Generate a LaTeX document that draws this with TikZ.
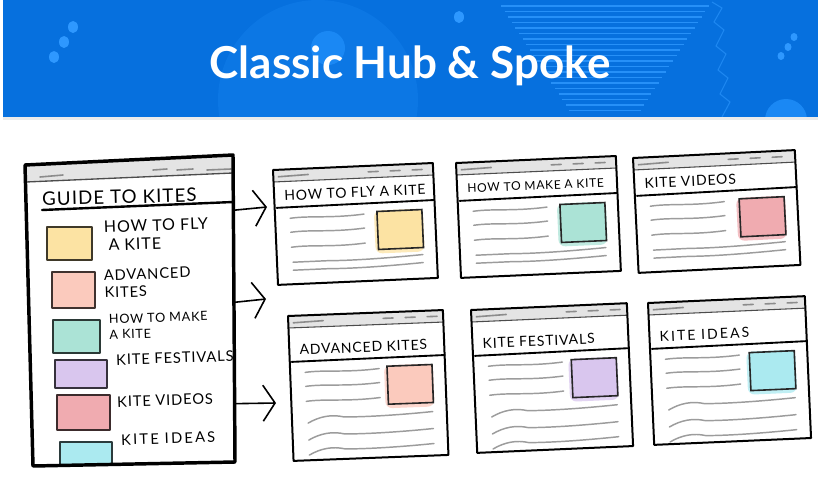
\documentclass[tikz,border=0pt]{standalone}
\usepackage{fontspec}
\setmainfont{Lato}
\newfontfamily\handfont[LetterSpace=6]{Lato}
\usetikzlibrary{calc}
\usetikzlibrary{positioning}
\usetikzlibrary{arrows.meta}

\definecolor{bannerblue}{HTML}{0670DE}
\definecolor{bannerlight}{HTML}{1A88F4}
\definecolor{bannerdot}{HTML}{2E98FF}
\definecolor{barfill}{HTML}{E4E4E4}
\definecolor{scribble}{HTML}{9C9C9C}
\definecolor{kiteyellow}{HTML}{FCE3A3}
\definecolor{kitesalmon}{HTML}{FBCABD}
\definecolor{kiteteal}{HTML}{ABE3D6}
\definecolor{kitepurple}{HTML}{D9C6EE}
\definecolor{kitepink}{HTML}{F0ABB0}
\definecolor{kitecyan}{HTML}{ABEAF0}

\tikzstyle{bannertitle} = [text=white, font=\fontsize{33}{36}\selectfont\bfseries]
\tikzstyle{hubframe} = [draw=black, line width=2.6pt, line join=round]
\tikzstyle{pageframe} = [draw=black, line width=1.5pt, line join=round]
\tikzstyle{titlerule} = [draw=black, line width=1.4pt, line cap=round]
\tikzstyle{barline} = [draw=black!70, line width=0.8pt]
\tikzstyle{bardash} = [draw=black!45, line width=1.2pt, line cap=round]
\tikzstyle{scrib} = [draw=scribble, line width=1.1pt, line cap=round]
\tikzstyle{hubsq} = [line width=1.2pt, line join=round]
\tikzstyle{pagesq} = [draw=black!85, line width=1.2pt]
\tikzstyle{hublabel} = [anchor=west, align=left, inner sep=0pt, rotate=2,
  font=\handfont\fontsize{11}{13}\selectfont]
\tikzstyle{pagetitle} = [anchor=west, inner sep=0pt, transform shape,
  font=\handfont\fontsize{10.5}{12}\selectfont]
\tikzstyle{spoke} = [draw=black, line width=1.2pt,
  -{Straight Barb[length=9pt,width=27pt,line width=1.2pt]}]

% #1 name, #2 corner, #3 tilt, #4 width, #5 height, #6 title, #7 colour,
% #8 shift of the content, #9 rows of long scribbles
\newcommand{\kitepage}[9]{%
  \begin{scope}[shift={#2}, rotate=#3]
    \coordinate (#1) at (0,0);
    \fill[white] (0,0) rectangle (#4,#5);
    \fill[barfill] (0,0) rectangle (#4,12);
    \draw[barline] (0,12) -- (#4,12);
    \draw[bardash] (5,7) -- (35,6);
    \foreach \dx in {95,117,139} \draw[bardash] (\dx,6) -- ++(10,0);
    \node[pagetitle] (#1-title) at (10,{26+#8}) {#6};
    \draw[titlerule] (2,{38+#8}) -- (#4,{37+#8});
    % picture square
    \coordinate (#1-sq) at ({#4-58},{46+#8});
    \fill[#7!75!white, rounded corners=5pt] ($(#1-sq)+(-3,-1)$) rectangle ++(49,43);
    \draw[pagesq, fill=#7] (#1-sq) rectangle ++(45,38);
    % text scribbles
    \foreach \ly in {49,63,78}
      \draw[scrib] (15,{\ly+#8}) .. controls (35,{\ly+#8-2}) and (55,{\ly+#8+2}) .. (89,{\ly+#8-1});
    \foreach \ly in {#9}
      \draw[scrib] (16,{\ly+0.6*#8}) .. controls (28,{\ly-0.2*#8}) and (40,{\ly-0.4*#8}) .. (52,\ly)
        .. controls (75,{\ly+1}) and (110,\ly) .. ({#4-14},{\ly-2});
    \draw[pageframe] (0,0) rectangle (#4,#5);
  \end{scope}}

\begin{document}
\begin{tikzpicture}[x=0.75pt, y=-0.75pt]
\useasboundingbox (0,0) rectangle (818,493);
\fill[white] (0,0) rectangle (818,493);

% banner
\fill[bannerblue] (3,0) rectangle (818,117);
\begin{scope}
  \clip (3,0) rectangle (818,117);
  \fill[bannerlight, opacity=0.3] (318,100) circle (100);
  \fill[bannerlight] (328,48) circle (17);
  \fill[bannerlight] (786,120) circle (21);
  \foreach \i in {0,...,19}
    \draw[bannerdot, opacity=0.8, line width=1.1pt] ({501+3.6*\i},{6+5.5*\i}) -- ({709-3.6*\i},{6+5.5*\i});
  \draw[bannerdot, opacity=0.6, line width=0.8pt]
    (712,2) -- (722,8) -- (714,22) -- (724,30) -- (716,46) -- (726,54) -- (718,70)
    -- (728,78) -- (720,94) -- (730,102) -- (722,117);
\end{scope}
\foreach \dx/\dy in {73/27,64/42,54/57} \fill[bannerdot] (\dx,\dy) ellipse (5 and 6);
\fill[bannerdot] (459,17) ellipse (5 and 6);
\foreach \dx/\dy in {794/37,788/47,781/56} \fill[bannerdot] (\dx,\dy) ellipse (3.5 and 4);
\node[bannertitle] (title) at (410,66) {Classic Hub \& Spoke};
\fill[black!8] (3,117) rectangle (818,120);

% hub page
\coordinate (hub-nw) at (25,165);
\coordinate (hub-ne) at (233,155);
\coordinate (hub-se) at (235,462);
\coordinate (hub-sw) at (33,466);
\fill[white] (hub-nw) -- (hub-ne) -- (hub-se) -- (hub-sw) -- cycle;
\fill[barfill] (hub-nw) -- (hub-ne) -- (233,173) -- (26,182) -- cycle;
\draw[barline, line width=1pt] (26,182) -- (233,173);
\draw[bardash] (40,177) -- (63,175);
\foreach \dx/\dl in {153/14,177/16,207/24} \draw[bardash] (\dx,170) -- ++(\dl,-1);
\node[pagetitle, font=\handfont\fontsize{14}{16}\selectfont, rotate=1.5] (hub-title) at (42,199) {GUIDE TO KITES};
\draw[titlerule, line width=1.8pt] (42,210) -- (233,202);
\foreach \ax/\ay/\bx/\by/\col in {47/227/92/260/kiteyellow, 52/272/95/308/kitesalmon,
    53/320/100/353/kiteteal, 55/360/107/388/kitepurple, 57/395/110/430/kitepink,
    60/442/112/465/kitecyan}
  \draw[hubsq, fill=\col, draw=\col!25!black] (\ax,\ay) rectangle (\bx,\by);
\node[hublabel, font=\handfont\fontsize{12}{13.5}\selectfont] (lbl-fly) at (104,236) {HOW TO FLY\\\hspace{3pt}A KITE};
\node[hublabel] (lbl-adv) at (104,284) {ADVANCED\\KITES};
\node[hublabel, font=\handfont\fontsize{9.5}{11.5}\selectfont] (lbl-make) at (109,327) {HOW TO MAKE\\A KITE};
\node[hublabel] (lbl-fest) at (116,360) {KITE FESTIVALS};
\node[hublabel] (lbl-video) at (117,402) {KITE VIDEOS};
\node[hublabel, font=\handfont\fontsize{11}{13}\selectfont\addfontfeature{LetterSpace=15}] (lbl-idea) at (121,440) {KITE IDEAS};
\draw[hubframe] (hub-nw) -- (hub-ne) -- (hub-se) -- (hub-sw) -- cycle;

% spoke pages
\kitepage{flypage}{(273,170)}{2.5}{160}{115}{HOW TO FLY A KITE}{kiteyellow}{0}{93,101}
\kitepage{makepage}{(456,163)}{2.5}{160}{115}{\fontsize{9}{11}\selectfont HOW TO MAKE A KITE}{kiteteal}{0}{93,101}
\kitepage{videopage}{(633,158)}{2.8}{162}{115}{KITE VIDEOS}{kitepink}{0}{93,101}
\kitepage{advpage}{(288,316)}{2.2}{155}{145}{ADVANCED KITES}{kitesalmon}{8}{103,120,135}
\kitepage{festpage}{(471,310)}{2.5}{156}{143}{KITE FESTIVALS}{kitepurple}{8}{103,120,135}
\kitepage{ideapage}{(648,303)}{2.5}{157}{142}{\addfontfeature{LetterSpace=15}KITE IDEAS}{kitecyan}{8}{103,120,135}

% spokes
\coordinate (hub-s1) at ($(hub-ne)!0.18!(hub-se)$);
\coordinate (hub-s2) at ($(hub-ne)!0.48!(hub-se)$);
\coordinate (hub-s3) at ($(hub-ne)!0.81!(hub-se)$);
\coordinate (tip1) at (267,207);
\coordinate (tip2) at (266,299);
\coordinate (tip3) at (276,403);
\draw[spoke] (hub-s1) -- (tip1);
\draw[spoke] (hub-s2) -- (tip2);
\draw[spoke] (hub-s3) -- (tip3);
\end{tikzpicture}
\end{document}
